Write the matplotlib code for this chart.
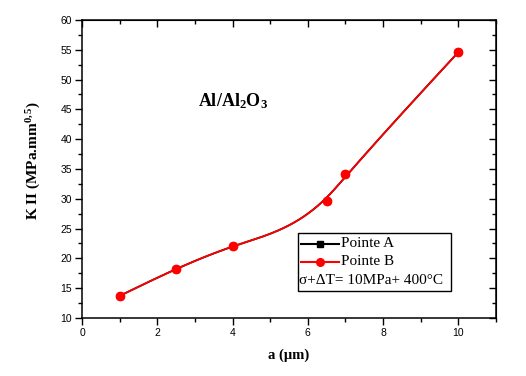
import numpy as np
import matplotlib
matplotlib.use("Agg")
import matplotlib.pyplot as plt
from matplotlib.ticker import MultipleLocator
from matplotlib.lines import Line2D
from matplotlib.patches import Rectangle

a_um = [1.0, 2.5, 4.0, 6.5, 7.0, 10.0]
k_a = [13.7, 18.2, 22.1, 29.6, 34.2, 54.6]
k_b = [13.7, 18.2, 22.1, 29.6, 34.2, 54.6]
series_labels = ["Pointe A", "Pointe B"]
note_text = "σ+ΔT= 10MPa+ 400°C"
title_text = "Al/Al$_2$O$_3$"

plt.rcParams["mathtext.fontset"] = "custom"
plt.rcParams["mathtext.rm"] = "Liberation Serif:bold"
plt.rcParams["mathtext.it"] = "Liberation Serif:bold"
plt.rcParams["mathtext.bf"] = "Liberation Serif:bold"

SMOOTH = 0.06


def natural_coeffs(t, v):
    m = len(t); h = np.diff(t)
    A = np.zeros((m, m)); r = np.zeros(m)
    A[0, 0] = A[-1, -1] = 1
    for i in range(1, m - 1):
        A[i, i - 1] = h[i - 1]; A[i, i] = 2 * (h[i - 1] + h[i]); A[i, i + 1] = h[i]
        r[i] = 3 * ((v[i + 1] - v[i]) / h[i] - (v[i] - v[i - 1]) / h[i - 1])
    c = np.linalg.solve(A, r)
    b = (v[1:] - v[:-1]) / h - h * (2 * c[:-1] + c[1:]) / 3
    d = (c[1:] - c[:-1]) / (3 * h)
    return b, c, d


def smoothing_spline(x, y, lam, n=400):
    # Reinsch cubic smoothing spline (natural ends)
    x = np.asarray(x, float); y = np.asarray(y, float)
    m = len(x); h = np.diff(x)
    Q = np.zeros((m, m - 2)); R = np.zeros((m - 2, m - 2))
    for j in range(1, m - 1):
        Q[j - 1, j - 1] = 1 / h[j - 1]
        Q[j, j - 1] = -1 / h[j - 1] - 1 / h[j]
        Q[j + 1, j - 1] = 1 / h[j]
        R[j - 1, j - 1] = (h[j - 1] + h[j]) / 3
        if j < m - 2:
            R[j - 1, j] = R[j, j - 1] = h[j] / 6
    K = Q @ np.linalg.solve(R, Q.T)
    f = np.linalg.solve(np.eye(m) + lam * K, y)
    b, c, d = natural_coeffs(x, f)
    xs = np.linspace(x[0], x[-1], n)
    idx = np.clip(np.searchsorted(x, xs) - 1, 0, m - 2)
    dx = xs - x[idx]
    return xs, f[idx] + b[idx] * dx + c[idx] * dx**2 + d[idx] * dx**3


fig = plt.figure(figsize=(5.26, 3.76), dpi=100)
ax = fig.add_axes([82 / 526, 1 - 318 / 376, 414 / 526, 298 / 376])

xs, ys = smoothing_spline(a_um, k_a, SMOOTH)
ax.plot(xs, ys, color="black", lw=1.3, zorder=2)
ax.plot(a_um, k_a, ls="none", marker="s", ms=5, color="black", zorder=3)
xs, ys = smoothing_spline(a_um, k_b, SMOOTH)
ax.plot(xs, ys, color="red", lw=1.3, zorder=4)
ax.plot(a_um, k_b, ls="none", marker="o", ms=6, color="red", zorder=5)

ax.set_xlim(0, 11)
ax.set_ylim(10, 60)
ax.xaxis.set_major_locator(MultipleLocator(2))
ax.xaxis.set_minor_locator(MultipleLocator(1))
ax.yaxis.set_major_locator(MultipleLocator(5))
ax.yaxis.set_minor_locator(MultipleLocator(2.5))
for s in ax.spines.values():
    s.set_linewidth(1.1)
ax.tick_params(which="both", direction="out", top=False, right=False,
               labelsize=7.5, width=1, pad=2)
ax.tick_params(which="major", length=5)
ax.tick_params(which="minor", length=3)
for lab in ax.get_xticklabels() + ax.get_yticklabels():
    lab.set_family("Liberation Sans")

sec_x = ax.secondary_xaxis("top")
sec_x.xaxis.set_major_locator(MultipleLocator(2))
sec_x.xaxis.set_minor_locator(MultipleLocator(1))
sec_x.tick_params(which="both", direction="in", labeltop=False, width=1)
sec_x.tick_params(which="major", length=5)
sec_x.tick_params(which="minor", length=3)
sec_y = ax.secondary_yaxis("right")
sec_y.yaxis.set_major_locator(MultipleLocator(5))
sec_y.yaxis.set_minor_locator(MultipleLocator(2.5))
sec_y.tick_params(which="both", direction="in", labelright=False, width=1)
sec_y.tick_params(which="major", length=5)
sec_y.tick_params(which="minor", length=3)

ax.set_xlabel("a (µm)", fontfamily="Liberation Serif", fontweight="bold",
              fontsize=10.5, labelpad=8)
ax.set_ylabel("K II (MPa.mm$^{0,5}$)", fontfamily="Liberation Serif",
              fontweight="bold", fontsize=11)
ax.yaxis.set_label_coords(-0.095, 0.53)

fig.text(233 / 526, 1 - 101 / 376, title_text, fontsize=13,
         fontweight="bold", fontfamily="Liberation Serif", ha="center", va="center")


def fx(px):
    return px / 526


def fy(py):
    return 1 - py / 376


fig.add_artist(Rectangle((fx(298), fy(291)), fx(451) - fx(298), fy(233) - fy(291),
                         transform=fig.transFigure, fill=True, facecolor="white",
                         edgecolor="black", lw=1.0, zorder=6))
rows = [(243.5, "black", "s", 4.5), (261.5, "red", "o", 5.5)]
for (ry, col, mk, ms), lab in zip(rows, series_labels):
    fig.add_artist(Line2D([fx(301), fx(339)], [fy(ry), fy(ry)], transform=fig.transFigure,
                          color=col, lw=1.5, zorder=7))
    fig.add_artist(Line2D([fx(320)], [fy(ry)], transform=fig.transFigure, color=col,
                          marker=mk, ms=ms, ls="none", zorder=8))
    fig.text(fx(341), fy(ry), lab, fontfamily="Liberation Serif", fontsize=11,
             ha="left", va="center", zorder=8)
fig.text(fx(299), fy(280.5), note_text, fontfamily="Liberation Serif", fontsize=11,
         ha="left", va="center", zorder=8)

fig.savefig("out.png", dpi=100)
